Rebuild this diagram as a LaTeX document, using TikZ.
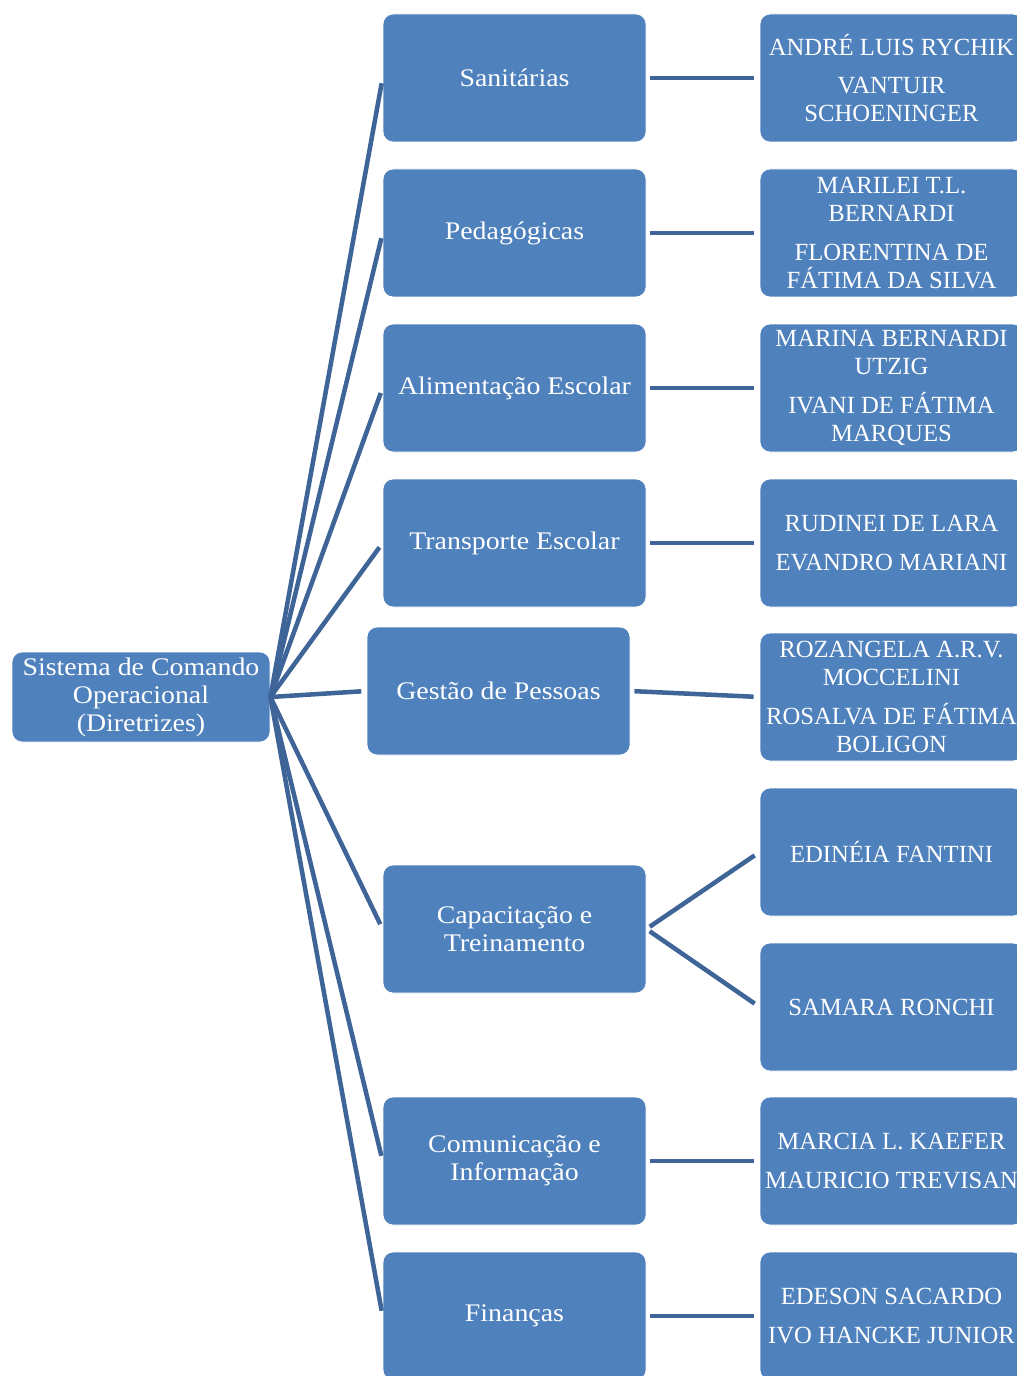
\documentclass[tikz,border=0pt]{standalone}
\usepackage{fontspec}
\setmainfont[FakeStretch=1.1]{Liberation Serif}
\newfontfamily\namefont{Liberation Serif}
\definecolor{boxblue}{HTML}{4F81BD}
\definecolor{linkblue}{HTML}{3F6598}
\begin{document}
\begin{tikzpicture}[x=0.75pt,y=-0.75pt,
  box/.style={draw=white, line width=0.6pt, fill=boxblue, rounded corners=7.5pt,
    minimum width=197.25pt, minimum height=96pt, text=white, align=center,
    font=\fontsize{19}{21}\selectfont, inner sep=0pt},
  namebox/.style={box, font=\namefont\fontsize{18.5}{21}\selectfont},
  rootbox/.style={box, minimum width=193.5pt, minimum height=67.5pt},
  link/.style={draw=linkblue, line width=3.4pt}]
\useasboundingbox (0,0) rectangle (1016,1376);
% root
\node[rootbox] (root) at (141,697) {Sistema de Comando\\Operacional\\(Diretrizes)};
% middle
\node[box] (san) at (514.5,78) {Sanitárias};
\node[box] (ped) at (514.5,233) {Pedagógicas};
\node[box] (ali) at (514.5,388) {Alimentação Escolar};
\node[box] (tra) at (514.5,543) {Transporte Escolar};
\node[box] (ges) at (498.5,691) {Gestão de Pessoas};
\node[box] (cap) at (514.5,929) {Capacitação e\\Treinamento};
\node[box] (com) at (514.5,1161) {Comunicação e\\Informação};
\node[box] (fin) at (514.5,1316) {Finanças};
% right
\node[namebox] (r1) at (891.5,78) {ANDRÉ LUIS RYCHIK\\[8pt]VANTUIR\\SCHOENINGER};
\node[namebox] (r2) at (891.5,233) {MARILEI T.L.\\BERNARDI\\[8pt]FLORENTINA DE\\FÁTIMA DA SILVA};
\node[namebox] (r3) at (891.5,388) {MARINA BERNARDI\\UTZIG\\[8pt]IVANI DE FÁTIMA\\MARQUES};
\node[namebox] (r4) at (891.5,543) {RUDINEI DE LARA\\[8pt]EVANDRO MARIANI};
\node[namebox] (r5) at (891.5,697) {ROZANGELA A.R.V.\\MOCCELINI\\[8pt]ROSALVA DE FÁTIMA\\BOLIGON};
\node[namebox] (r6) at (891.5,852) {EDINÉIA FANTINI};
\node[namebox] (r7) at (891.5,1007) {SAMARA RONCHI};
\node[namebox] (r8) at (891.5,1161) {MARCIA L. KAEFER\\[8pt]MAURICIO TREVISAN};
\node[namebox] (r9) at (891.5,1316) {EDESON SACARDO\\[8pt]IVO HANCKE JUNIOR};
% root links
\foreach \m in {san,ped,ali,tra,ges,cap,com,fin}
  \draw[link, shorten >=4pt] (root.east) -- (\m.west);
% middle to right
\draw[link, shorten <=3pt, shorten >=4.5pt] (san.east) -- (r1.west);
\draw[link, shorten <=3pt, shorten >=4.5pt] (ped.east) -- (r2.west);
\draw[link, shorten <=3pt, shorten >=4.5pt] (ali.east) -- (r3.west);
\draw[link, shorten <=3pt, shorten >=4.5pt] (tra.east) -- (r4.west);
\draw[link, shorten <=3pt, shorten >=4.5pt] (ges.east) -- (r5.west);
\draw[link, shorten <=3pt, shorten >=4.5pt] (cap.east) -- (r6.west);
\draw[link, shorten <=3pt, shorten >=4.5pt] (cap.east) -- (r7.west);
\draw[link, shorten <=3pt, shorten >=4.5pt] (com.east) -- (r8.west);
\draw[link, shorten <=3pt, shorten >=4.5pt] (fin.east) -- (r9.west);
\end{tikzpicture}
\end{document}
